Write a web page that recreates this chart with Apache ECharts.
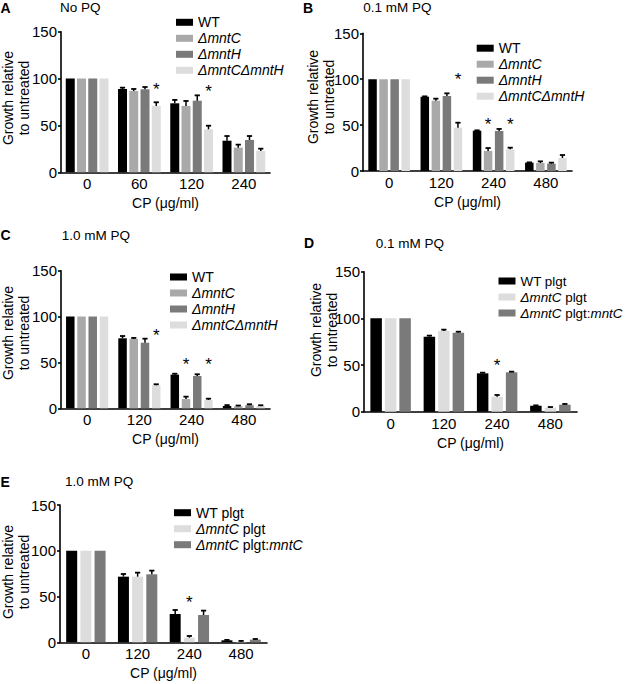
<!DOCTYPE html>
<html><head><meta charset="utf-8">
<script src="https://cdn.jsdelivr.net/npm/echarts@6/dist/echarts.min.js"></script>
<style>html,body{margin:0;padding:0;background:#fff}#c{width:625px;height:684px}</style>
</head><body><div id="c"></div>
<script>
// ---------- categories / ticks ----------
const catsA = ['0', '60', '120', '240'];
const catsCP = ['0', '120', '240', '480'];
const yMin = 0, yMax = 150, yStep = 50;

// ---------- Panel A: No PQ ----------
const A_WT     = [100, 88.9, 73.6, 33.7];
const A_WT_err = [0, 1.4, 3.6, 5.0];
const A_C      = [100, 86.8, 70.8, 26.3];
const A_C_err  = [0, 2.1, 5.3, 3.2];
const A_H      = [100, 88.6, 76.4, 34.5];
const A_H_err  = [0, 2.4, 5.7, 4.2];
const A_CH     = [100, 70.8, 45.9, 22.7];
const A_CH_err = [0, 3.9, 3.8, 2.5];
const A_star   = [[1, 3, 93], [2, 3, 90]]; // [category, bar index, height]

// ---------- Panel B: 0.1 mM PQ ----------
const B_WT     = [100, 80.9, 43.9, 9.1];
const B_WT_err = [0, 0.4, 0.4, 0.3];
const B_C      = [100, 76.6, 21.8, 8.7];
const B_C_err  = [0, 2.2, 3.2, 1.8];
const B_H      = [100, 81.7, 43.6, 8.0];
const B_H_err  = [0, 2.9, 2.2, 1.1];
const B_CH     = [100, 47.2, 23.6, 14.2];
const B_CH_err = [0, 5.4, 1.8, 3.2];
const B_star   = [[1, 3, 104.5], [2, 1, 55], [2, 3, 55]];

// ---------- Panel C: 1.0 mM PQ ----------
const C_WT     = [100, 76.3, 36.7, 2.5];
const C_WT_err = [0, 2.5, 1.0, 1.0];
const C_C      = [100, 75.6, 10.1, 2.2];
const C_C_err  = [0, 1.1, 2.6, 0.8];
const C_H      = [100, 71.5, 35.2, 3.3];
const C_H_err  = [0, 4.4, 1.9, 1.1];
const C_CH     = [100, 25.1, 9.1, 2.5];
const C_CH_err = [0, 1.1, 1.4, 0.8];
const C_star   = [[1, 3, 84], [2, 1, 52.5], [2, 3, 52.5]];

// ---------- Panel D: 0.1 mM PQ (complementation) ----------
const D_WT     = [100, 80.4, 41.1, 6.4];
const D_WT_err = [0, 1.1, 0.7, 0.4];
const D_C      = [100, 86.5, 16.1, 4.3];
const D_C_err  = [0, 1.4, 1.8, 0.7];
const D_R      = [100, 84.7, 42.2, 7.5];
const D_R_err  = [0, 1.0, 0.7, 0.8];
const D_star   = [[2, 1, 54]];

// ---------- Panel E: 1.0 mM PQ (complementation) ----------
const E_WT     = [100, 71.7, 30.9, 2.2];
const E_WT_err = [0, 2.9, 4.4, 0.4];
const E_C      = [100, 71.7, 5.1, 0.6];
const E_C_err  = [0, 4.4, 1.8, 0.9];
const E_R      = [100, 74.3, 29.8, 2.9];
const E_R_err  = [0, 4.0, 4.8, 0.7];
const E_star   = [[2, 1, 47.5]];

// ---------- styling ----------
const FF = 'Liberation Sans, Arial, Helvetica, sans-serif';
const COL = {black: '#000000', mid: '#a9a9a9', dark: '#7a7a7a', light: '#dddddd'};
const richName = {
  'WT': 'WT',
  'ΔmntC': '{i|ΔmntC}',
  'ΔmntH': '{i|ΔmntH}',
  'ΔmntCΔmntH': '{i|ΔmntCΔmntH}',
  'WT plgt': 'WT plgt',
  'ΔmntC plgt': '{i|ΔmntC} plgt',
  'ΔmntC plgt:mntC': '{i|ΔmntC} plgt:{i|mntC}'
};

const panels = [
  {cats: catsA, grid: {left: 61, top: 31.7, width: 209, height: 140.6}, bw: 9, gap: 0.25,
   names: ['WT', 'ΔmntC', 'ΔmntH', 'ΔmntCΔmntH'], colors: [COL.black, COL.mid, COL.dark, COL.light],
   vals: [A_WT, A_C, A_H, A_CH], errs: [A_WT_err, A_C_err, A_H_err, A_CH_err], stars: A_star,
   legend: {left: 176, top: 14.3, fs: 14}, letter: ['A', 0.5, 7.5], title: ['No PQ', 60, 7.5], ylab: [16, 98]},
  {cats: catsCP, grid: {left: 363, top: 33.3, width: 209, height: 137.7}, bw: 8.5, gap: 0.3,
   names: ['WT', 'ΔmntC', 'ΔmntH', 'ΔmntCΔmntH'], colors: [COL.black, COL.mid, COL.dark, COL.light],
   vals: [B_WT, B_C, B_H, B_CH], errs: [B_WT_err, B_C_err, B_H_err, B_CH_err], stars: B_star,
   legend: {left: 476.7, top: 40.2, fs: 14}, letter: ['B', 303, 7.5], title: ['0.1 mM PQ', 363.3, 7.5], ylab: [321, 97]},
  {cats: catsCP, grid: {left: 61, top: 270.7, width: 209, height: 137.6}, bw: 8.5, gap: 0.32,
   names: ['WT', 'ΔmntC', 'ΔmntH', 'ΔmntCΔmntH'], colors: [COL.black, COL.mid, COL.dark, COL.light],
   vals: [C_WT, C_C, C_H, C_CH], errs: [C_WT_err, C_C_err, C_H_err, C_CH_err], stars: C_star,
   legend: {left: 170, top: 269, fs: 14}, letter: ['C', 0.5, 235], title: ['1.0 mM PQ', 61.7, 235], ylab: [16, 333]},
  {cats: catsCP, grid: {left: 364, top: 271.7, width: 213, height: 140}, bw: 11.5, gap: 0.26,
   names: ['WT plgt', 'ΔmntC plgt', 'ΔmntC plgt:mntC'], colors: [COL.black, COL.light, COL.dark],
   vals: [D_WT, D_C, D_R], errs: [D_WT_err, D_C_err, D_R_err], stars: D_star,
   legend: {left: 498.5, top: 273, fs: 13.4}, letter: ['D', 304, 243.3], title: ['0.1 mM PQ', 375.7, 243.3], ylab: [323.5, 330]},
  {cats: catsCP, grid: {left: 60, top: 505, width: 207, height: 137.3}, bw: 11, gap: 0.29,
   names: ['WT plgt', 'ΔmntC plgt', 'ΔmntC plgt:mntC'], colors: [COL.black, COL.light, COL.dark],
   vals: [E_WT, E_C, E_R], errs: [E_WT_err, E_C_err, E_R_err], stars: E_star,
   legend: {left: 174, top: 504.7, fs: 14}, letter: ['E', 0.5, 481.7], title: ['1.0 mM PQ', 65, 481.7], ylab: [16, 572]}
];

const grids = [], xAxes = [], yAxes = [], series = [], legends = [], graphics = [];
const axisLineStyle = {color: '#000', width: 1.6};

panels.forEach((p, gi) => {
  grids.push(Object.assign({containLabel: false}, p.grid));
  xAxes.push({
    type: 'category', gridIndex: gi, data: p.cats,
    axisLine: {lineStyle: axisLineStyle},
    axisTick: {alignWithLabel: true, length: 4, lineStyle: axisLineStyle},
    axisLabel: {fontSize: 15, color: '#000', fontFamily: FF, margin: 4},
    name: 'CP (μg/ml)', nameLocation: 'middle', nameGap: 24,
    nameTextStyle: {fontSize: 14, color: '#000', fontFamily: FF}
  });
  yAxes.push({
    type: 'value', gridIndex: gi, min: yMin, max: yMax, interval: yStep,
    axisLine: {show: true, lineStyle: axisLineStyle},
    axisTick: {show: true, length: 3, lineStyle: axisLineStyle},
    axisLabel: {fontSize: 15, color: '#000', fontFamily: FF, margin: 4},
    splitLine: {show: false}
  });
  const n = p.names.length;
  const pitch = p.bw * (1 + p.gap);
  p.names.forEach((nm, k) => {
    series.push({
      type: 'bar', name: nm, xAxisIndex: gi, yAxisIndex: gi, data: p.vals[k],
      barWidth: p.bw, barGap: (p.gap * 100) + '%', itemStyle: {color: p.colors[k]},
      silent: true, emphasis: {disabled: true}
    });
    const off = (k - (n - 1) / 2) * pitch;
    series.push({
      type: 'custom', xAxisIndex: gi, yAxisIndex: gi, silent: true, z: 5,
      data: p.vals[k].map((m, i) => [i, m, m + p.errs[k][i]]),
      renderItem: (params, api) => {
        const lo = api.value(1), hi = api.value(2);
        if (hi - lo <= 0) return null;
        const b = api.coord([api.value(0), lo]);
        const t = api.coord([api.value(0), hi]);
        const x = b[0] + off;
        return {type: 'group', children: [
          {type: 'line', shape: {x1: x, y1: b[1], x2: x, y2: t[1]}, style: {stroke: '#000', lineWidth: 1.5}},
          {type: 'line', shape: {x1: x - 2.6, y1: t[1], x2: x + 2.6, y2: t[1]}, style: {stroke: '#000', lineWidth: 1.8}}
        ]};
      }
    });
  });
  series.push({
    type: 'custom', xAxisIndex: gi, yAxisIndex: gi, silent: true, z: 6,
    data: p.stars,
    renderItem: (params, api) => {
      const c = api.coord([api.value(0), api.value(2)]);
      const k = api.value(1);
      const x = c[0] + (k - (n - 1) / 2) * pitch;
      return {type: 'text', x: x, y: c[1] + 4,
        style: {text: '*', fontSize: 17, fontFamily: FF, fill: '#000', align: 'center', verticalAlign: 'middle'}};
    }
  });
  legends.push({
    data: p.names, orient: 'vertical', left: p.legend.left, top: p.legend.top,
    padding: 0, itemGap: 0, itemWidth: 17, itemHeight: 7, icon: 'rect', selectedMode: false,
    textStyle: {fontSize: p.legend.fs, color: '#000', fontFamily: FF, lineHeight: 16,
      rich: {i: {fontStyle: 'italic', fontSize: p.legend.fs, color: '#000', fontFamily: FF, lineHeight: 16}}},
    formatter: nm => richName[nm]
  });
  graphics.push({type: 'text', x: p.letter[1], y: p.letter[2],
    style: {text: p.letter[0], fontSize: 14, fontWeight: 'bold', fontFamily: FF, fill: '#000',
      align: 'left', verticalAlign: 'middle'}});
  graphics.push({type: 'text', x: p.title[1], y: p.title[2],
    style: {text: p.title[0], fontSize: 13.5, fontFamily: FF, fill: '#000', align: 'left', verticalAlign: 'middle'}});
  graphics.push({type: 'text', x: p.ylab[0], y: p.ylab[1], rotation: Math.PI / 2,
    style: {text: 'Growth relative\nto untreated', fontSize: 14, lineHeight: 16, fontFamily: FF, fill: '#000',
      align: 'center', verticalAlign: 'middle'}});
});

const chart = echarts.init(document.getElementById('c'), null, {renderer: 'svg'});
chart.setOption({
  animation: false, backgroundColor: '#fff',
  grid: grids, xAxis: xAxes, yAxis: yAxes, series: series, legend: legends, graphic: graphics
});
</script></body></html>
